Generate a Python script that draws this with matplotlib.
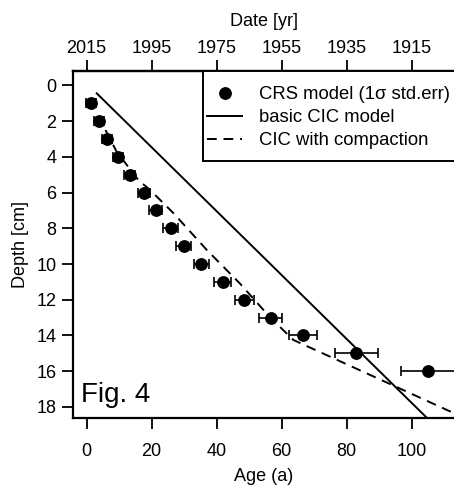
import matplotlib
matplotlib.use("Agg")
import matplotlib.pyplot as plt
from matplotlib.patches import Rectangle

plt.rcParams['font.family'] = ['Liberation Sans', 'DejaVu Sans']

# CRS model: depth [cm], age [a] and 1 sigma std.err
crs_depth = [1, 2, 3, 4, 5, 6, 7, 8, 9, 10, 11, 12, 13, 14, 15, 16]
crs_age = [1.3, 3.9, 6.3, 9.7, 13.3, 17.6, 21.3, 25.8, 29.9, 35.3, 41.8, 48.5, 56.6, 66.5, 83.0, 105.0]
crs_err = [1.5, 1.5, 1.6, 1.6, 1.7, 1.8, 2.0, 2.2, 2.3, 2.4, 2.6, 3.0, 3.6, 4.4, 6.6, 8.3]

# basic CIC model (straight line)
cic_age = [3.1, 104.6]
cic_depth = [0.44, 18.6]

# CIC with compaction
comp_age = [5.8, 9.2, 15.9, 19.5, 26.7, 36.9, 47.2, 56.5, 63.6, 116.0]
comp_depth = [2.5, 3.7, 5.3, 5.85, 7.15, 9.2, 11.1, 13.0, 14.25, 18.6]

date_ticks = [2015, 1995, 1975, 1955, 1935, 1915]

fs = 13

fig = plt.figure(figsize=(4.54, 4.86), dpi=100)
ax = fig.add_axes([73 / 454, 1 - 418 / 486, 381 / 454, 347 / 486])

crs = ax.errorbar(crs_age, crs_depth, xerr=crs_err, fmt='o', color='black',
                  markersize=8.2, elinewidth=1.2, capsize=3.6, capthick=1.2,
                  zorder=3)
basic, = ax.plot(cic_age, cic_depth, color='black', lw=1.4)
comp, = ax.plot(comp_age, comp_depth, color='black', lw=1.4, dashes=(5, 3.5))

ax.set_xlim(-4.2, 113.0)
ax.set_ylim(18.62, -0.81)
ax.set_xticks([0, 20, 40, 60, 80, 100])
ax.set_yticks([0, 2, 4, 6, 8, 10, 12, 14, 16, 18])
ax.tick_params(axis='x', direction='out', length=8, width=1.3, labelsize=fs, pad=10)
ax.tick_params(axis='y', direction='out', length=8, width=1.3, labelsize=fs, pad=4)
for side in ['left', 'bottom', 'top']:
    ax.spines[side].set_linewidth(1.6)
ax.spines['right'].set_visible(False)

ax.set_xlabel('Age (a)', fontsize=fs, labelpad=6)
ax.set_ylabel('Depth [cm]', fontsize=fs, labelpad=5)

top = ax.secondary_xaxis('top', functions=(lambda a: 2015 - a, lambda d: 2015 - d))
top.set_xticks(date_ticks)
top.tick_params(direction='out', length=8, width=1.3, labelsize=fs, pad=2)
top.spines['top'].set_linewidth(1.6)
top.set_xlabel('Date [yr]', fontsize=fs, labelpad=10)

ax.text(0.02, 0.03, 'Fig. 4', transform=ax.transAxes, fontsize=20,
        ha='left', va='bottom')

# legend box
box = Rectangle((0.341, 0.7406), 0.7, 0.2594, transform=ax.transAxes,
                facecolor='white', edgecolor='black', lw=1.4, zorder=4,
                clip_on=False)
ax.add_patch(box)
leg = ax.legend([crs[0], basic, comp],
                ['CRS model (1\u03c3 std.err)', 'basic CIC model', 'CIC with compaction'],
                loc='upper left', bbox_to_anchor=(0.352, 0.956), borderaxespad=0,
                borderpad=0, fontsize=13.3, frameon=False,
                handlelength=1.9, handletextpad=0.9, labelspacing=0.32)
leg.set_zorder(5)

fig.savefig('out.png', dpi=100)
